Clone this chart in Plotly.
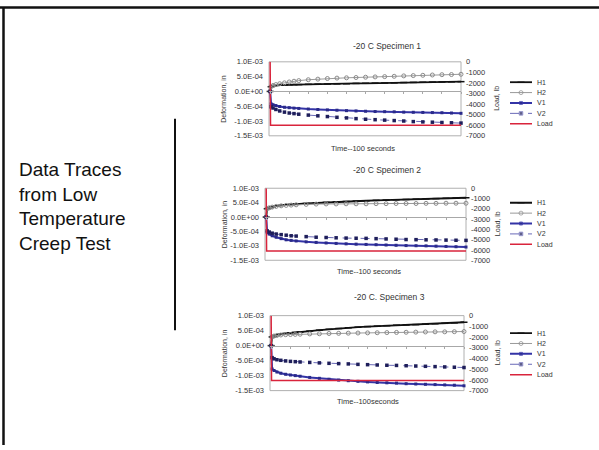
import plotly.graph_objects as go

# ---------------- data ----------------
time_units = [0, 0.5, 1.5, 3, 5, 7.5, 10, 12.5, 15, 20, 25, 30, 35, 40, 45, 50,
              55, 60, 65, 70, 75, 80, 85, 90, 95, 100]

spec1_h1 = [0, 1.6e-4, 1.9e-4, 2.05e-4, 2.15e-4, 2.2e-4, 2.25e-4, 2.28e-4, 2.3e-4, 2.4e-4,
            2.45e-4, 2.5e-4, 2.55e-4, 2.6e-4, 2.7e-4, 2.75e-4, 2.8e-4, 2.85e-4, 2.9e-4,
            3.0e-4, 3.05e-4, 3.1e-4, 3.15e-4, 3.2e-4, 3.25e-4, 3.3e-4]
spec1_h2 = [0, 1.6e-4, 2.0e-4, 2.3e-4, 2.6e-4, 2.9e-4, 3.2e-4, 3.45e-4, 3.65e-4, 3.95e-4,
            4.15e-4, 4.35e-4, 4.5e-4, 4.6e-4, 4.7e-4, 4.8e-4, 4.9e-4, 5.0e-4, 5.1e-4,
            5.25e-4, 5.35e-4, 5.45e-4, 5.55e-4, 5.65e-4, 5.7e-4, 5.8e-4]
spec1_v1 = [0, -4.2e-4, -4.5e-4, -4.8e-4, -5.1e-4, -5.35e-4, -5.5e-4, -5.65e-4, -5.75e-4,
            -5.95e-4, -6.1e-4, -6.25e-4, -6.35e-4, -6.5e-4, -6.6e-4, -6.7e-4, -6.8e-4,
            -6.85e-4, -6.9e-4, -7.0e-4, -7.05e-4, -7.1e-4, -7.15e-4, -7.2e-4, -7.3e-4, -7.4e-4]
spec1_v2 = [0, -5.2e-4, -5.6e-4, -6.1e-4, -6.6e-4, -7.0e-4, -7.3e-4, -7.5e-4, -7.7e-4,
            -8.0e-4, -8.25e-4, -8.5e-4, -8.75e-4, -8.95e-4, -9.2e-4, -9.4e-4, -9.55e-4,
            -9.7e-4, -9.85e-4, -1.0e-3, -1.02e-3, -1.03e-3, -1.04e-3, -1.05e-3, -1.06e-3, -1.07e-3]

spec2_h1 = [0, 2.9e-4, 3.2e-4, 3.5e-4, 3.8e-4, 4.05e-4, 4.25e-4, 4.4e-4, 4.5e-4, 4.7e-4,
            4.9e-4, 5.1e-4, 5.25e-4, 5.4e-4, 5.55e-4, 5.65e-4, 5.8e-4, 5.9e-4, 6.0e-4,
            6.1e-4, 6.2e-4, 6.3e-4, 6.4e-4, 6.5e-4, 6.6e-4, 6.7e-4]
spec2_h2 = [0, 2.9e-4, 3.2e-4, 3.45e-4, 3.7e-4, 3.9e-4, 4.05e-4, 4.15e-4, 4.25e-4, 4.4e-4,
            4.5e-4, 4.55e-4, 4.55e-4, 4.6e-4, 4.6e-4, 4.6e-4, 4.65e-4, 4.65e-4, 4.7e-4,
            4.7e-4, 4.7e-4, 4.75e-4, 4.75e-4, 4.8e-4, 4.8e-4, 4.8e-4]
spec2_v1 = [0, -5.4e-4, -5.9e-4, -6.5e-4, -7.0e-4, -7.5e-4, -7.9e-4, -8.1e-4, -8.3e-4,
            -8.6e-4, -8.8e-4, -9.0e-4, -9.15e-4, -9.3e-4, -9.4e-4, -9.5e-4, -9.6e-4,
            -9.7e-4, -9.8e-4, -9.9e-4, -9.95e-4, -1.0e-3, -1.01e-3, -1.02e-3, -1.03e-3, -1.04e-3]
spec2_v2 = [0, -4.8e-4, -5.2e-4, -5.6e-4, -5.9e-4, -6.1e-4, -6.3e-4, -6.5e-4, -6.6e-4,
            -6.8e-4, -7.0e-4, -7.1e-4, -7.2e-4, -7.3e-4, -7.35e-4, -7.4e-4, -7.5e-4,
            -7.6e-4, -7.7e-4, -7.8e-4, -7.85e-4, -7.9e-4, -7.95e-4, -8.0e-4, -8.05e-4, -8.1e-4]

spec3_h1 = [0, 2.9e-4, 3.2e-4, 3.5e-4, 3.8e-4, 4.05e-4, 4.25e-4, 4.4e-4, 4.55e-4, 4.85e-4,
            5.15e-4, 5.45e-4, 5.7e-4, 5.95e-4, 6.15e-4, 6.35e-4, 6.5e-4, 6.65e-4, 6.8e-4,
            6.9e-4, 7.0e-4, 7.15e-4, 7.3e-4, 7.45e-4, 7.6e-4, 7.8e-4]
spec3_h2 = [0, 2.9e-4, 3.2e-4, 3.4e-4, 3.55e-4, 3.65e-4, 3.7e-4, 3.75e-4, 3.8e-4, 3.9e-4,
            3.95e-4, 4.05e-4, 4.1e-4, 4.15e-4, 4.2e-4, 4.25e-4, 4.3e-4, 4.35e-4, 4.4e-4,
            4.45e-4, 4.5e-4, 4.55e-4, 4.6e-4, 4.6e-4, 4.65e-4, 4.7e-4]
spec3_v1 = [0, -7.8e-4, -8.3e-4, -8.8e-4, -9.2e-4, -9.55e-4, -9.8e-4, -1.0e-3, -1.02e-3,
            -1.06e-3, -1.09e-3, -1.12e-3, -1.15e-3, -1.17e-3, -1.19e-3, -1.21e-3, -1.23e-3,
            -1.24e-3, -1.25e-3, -1.27e-3, -1.28e-3, -1.29e-3, -1.30e-3, -1.31e-3, -1.32e-3, -1.34e-3]
spec3_v2 = [0, -4.0e-4, -4.4e-4, -4.7e-4, -4.9e-4, -5.1e-4, -5.25e-4, -5.35e-4, -5.45e-4,
            -5.6e-4, -5.75e-4, -5.9e-4, -6.0e-4, -6.1e-4, -6.25e-4, -6.35e-4, -6.45e-4,
            -6.55e-4, -6.6e-4, -6.7e-4, -6.8e-4, -6.9e-4, -7.0e-4, -7.1e-4, -7.2e-4, -7.3e-4]

load_time = [0, 0.2, 100]
spec1_load = [0, -6000, -6000]
spec2_load = [0, -6100, -6100]
spec3_load = [0, -6050, -6050]

chart_titles = ["-20 C Specimen 1", "-20 C Specimen 2", "-20 C. Specimen 3"]
time_titles = ["Time--100 seconds", "Time--100 seconds", "Time--100seconds"]
series_names = ["H1", "H2", "V1", "V2", "Load"]

deform_tickvals = [1.0e-3, 5.0e-4, 0.0, -5.0e-4, -1.0e-3, -1.5e-3]
deform_ticktext = ["1.0E-03", "5.0E-04", "0.0E+00", "-5.0E-04", "-1.0E-03", "-1.5E-03"]
load_tickvals = [0, -1000, -2000, -3000, -4000, -5000, -6000, -7000]
load_ticktext = ["0", "-1000", "-2000", "-3000", "-4000", "-5000", "-6000", "-7000"]

side_text = "Data Traces<br>from Low<br>Temperature<br>Creep Test"

specimens = [
    (spec1_h1, spec1_h2, spec1_v1, spec1_v2, spec1_load),
    (spec2_h1, spec2_h2, spec2_v1, spec2_v2, spec2_load),
    (spec3_h1, spec3_h2, spec3_v1, spec3_v2, spec3_load),
]

# ---------------- page geometry (pixels) ----------------
W, H = 599, 450
FONT = "Liberation Sans, Arial, sans-serif"

# plot boxes: left, right, top, bottom
boxes = [(269, 461, 59, 134.5), (265, 466, 188, 261.5), (270, 464, 318, 394.5)]
title_pos = [(387, 43), (387, 169), (390, 299)]
xtitle_pos = [(363, 147), (369, 273), (368, 406)]
legend_center = [101, 224, 357]
legend_left = 509
row_gap = 10.6


def px(x):
    return x / W


def py(y):
    return 1 - y / H


def ax_id(letter, n):
    """Trace-side axis id, e.g. 'x', 'x2', 'y5'."""
    return letter if n == 1 else f"{letter}{n}"


def ax_key(letter, n):
    """Layout key, e.g. 'xaxis', 'xaxis2'."""
    return f"{letter}axis" if n == 1 else f"{letter}axis{n}"


styles = {
    "H1": dict(line=dict(color="#111111", width=1.8),
               marker=dict(symbol="line-ew", size=5, color="#111111",
                           line=dict(color="#111111", width=1.5))),
    "H2": dict(line=dict(color="#9a9a9a", width=1),
               marker=dict(symbol="circle-open", size=4, color="#8a8a8a",
                           line=dict(color="#8a8a8a", width=1))),
    "V1": dict(line=dict(color="#3333a6", width=2),
               marker=dict(symbol="square", size=3, color="#2a2a8a")),
    "V2": dict(line=dict(color="#6a6ab8", width=1, dash="dash"),
               marker=dict(symbol="square", size=3.5, color="#1e1e5a")),
    "Load": dict(line=dict(color="#d9243c", width=1.5)),
}

fig = go.Figure()
layout = dict(
    width=W, height=H,
    margin=dict(l=0, r=0, t=0, b=0),
    paper_bgcolor="white", plot_bgcolor="rgba(0,0,0,0)",
    showlegend=False,
    font=dict(family=FONT, color="#222222"),
)
annotations = []
shapes = []

tick_font = dict(family=FONT, size=7.5, color="#333333")

for k, data in enumerate(specimens):
    left, right, top, bottom = boxes[k]
    xd = [px(left), px(right)]
    yd = [py(bottom), py(top)]
    nx, ny, nyr = 2 * k + 1, 3 * k + 1, 3 * k + 2
    nxl, nyl = 2 * k + 2, 3 * k + 3
    xa, ya, ya_r = ax_id("x", nx), ax_id("y", ny), ax_id("y", nyr)
    xl, yl = ax_id("x", nxl), ax_id("y", nyl)

    ylo, yhi = -1.5e-3, 1.0e-3
    zero_pos = yd[0] + (0 - ylo) / (yhi - ylo) * (yd[1] - yd[0])

    # time axis drawn along the zero deformation line
    layout[ax_key("x", nx)] = dict(
        domain=xd, range=[-0.6, 100], anchor="free", position=zero_pos,
        showline=True, linecolor="#a8a8a8", linewidth=1,
        ticks="outside", ticklen=2, tickcolor="#a8a8a8", dtick=10, tick0=0,
        showticklabels=False, showgrid=False, zeroline=False,
    )
    layout[ax_key("y", ny)] = dict(
        domain=yd, range=[ylo, yhi], anchor=xa,
        tickvals=deform_tickvals, ticktext=deform_ticktext, tickfont=tick_font,
        ticks="", ticklabelstandoff=5, showgrid=False, zeroline=False, showline=False,
    )
    layout[ax_key("y", nyr)] = dict(
        overlaying=ya, side="right", anchor=xa, range=[-7000, 0],
        tickvals=load_tickvals, ticktext=load_ticktext, tickfont=tick_font,
        ticks="", ticklabelstandoff=4, showgrid=False, zeroline=False, showline=False,
    )

    names = series_names
    for name, values in zip(names[:4], data[:4]):
        fig.add_trace(go.Scatter(x=time_units, y=values, mode="lines+markers", name=name,
                                 xaxis=xa, yaxis=ya, cliponaxis=False, **styles[name]))
    fig.add_trace(go.Scatter(x=load_time, y=data[4], mode="lines", name="Load",
                             xaxis=xa, yaxis=ya_r, cliponaxis=False, **styles["Load"]))

    # frame around the plot area
    shapes.append(dict(type="rect", xref=f"{xa} domain", yref=f"{ya} domain",
                       x0=0, x1=1, y0=0, y1=1, line=dict(color="#b0b0b0", width=1),
                       layer="below"))

    # key beside each plot
    n = len(names)
    ltop = legend_center[k] - row_gap * n / 2
    lbot = legend_center[k] + row_gap * n / 2
    layout[ax_key("x", nxl)] = dict(domain=[px(legend_left), px(legend_left + 50)],
                                     range=[0, 50], anchor=yl, visible=False)
    layout[ax_key("y", nyl)] = dict(domain=[py(lbot), py(ltop)],
                                     range=[n - 0.5, -0.5], anchor=xl, visible=False)
    for i, name in enumerate(names):
        st = styles[name]
        kw = dict(line=st["line"])
        mode = "lines"
        if "marker" in st:
            mk = dict(st["marker"])
            mk["size"] = [0, mk["size"], 0]
            kw["marker"] = mk
            mode = "lines+markers"
        fig.add_trace(go.Scatter(x=[1, 12, 23], y=[i, i, i], mode=mode,
                                 xaxis=xl, yaxis=yl, hoverinfo="skip",
                                 cliponaxis=False, **kw))
        annotations.append(dict(x=26, y=i, xref=xl, yref=yl, text=name,
                                showarrow=False, xanchor="left", yanchor="middle",
                                font=dict(size=7, color="#333333")))

    cx, cy = title_pos[k]
    annotations.append(dict(x=px(cx), y=py(cy), xref="paper", yref="paper",
                            text=chart_titles[k], showarrow=False,
                            xanchor="center", yanchor="middle",
                            font=dict(size=8.5, color="#333333")))
    tx, ty = xtitle_pos[k]
    annotations.append(dict(x=px(tx), y=py(ty), xref="paper", yref="paper",
                            text=time_titles[k], showarrow=False,
                            xanchor="center", yanchor="middle",
                            font=dict(size=7.5, color="#333333")))
    mid = (top + bottom) / 2
    annotations.append(dict(x=px(224), y=py(mid), xref="paper", yref="paper",
                            text="Deformation, in", textangle=-90, showarrow=False,
                            xanchor="center", yanchor="middle",
                            font=dict(size=7, color="#333333")))
    annotations.append(dict(x=px(497), y=py(mid), xref="paper", yref="paper",
                            text="Load, lb", textangle=-90, showarrow=False,
                            xanchor="center", yanchor="middle",
                            font=dict(size=7, color="#333333")))

# slide text and rules
annotations.append(dict(x=px(17), y=py(207), xref="paper", yref="paper",
                        text=side_text, showarrow=False, align="left",
                        xanchor="left", yanchor="middle",
                        font=dict(size=19, color="#111111", family=FONT)))
shapes.append(dict(type="line", xref="paper", yref="paper",
                   x0=px(175), x1=px(175), y0=py(117), y1=py(333),
                   line=dict(color="#111111", width=2)))
shapes.append(dict(type="line", xref="paper", yref="paper",
                   x0=0, x1=1, y0=py(3.5), y1=py(3.5),
                   line=dict(color="#111111", width=2.5)))
shapes.append(dict(type="line", xref="paper", yref="paper",
                   x0=px(3.5), x1=px(3.5), y0=0, y1=py(3),
                   line=dict(color="#111111", width=2.5)))

layout["annotations"] = annotations
layout["shapes"] = shapes
fig.update_layout(**layout)

fig.write_html("out.html")
